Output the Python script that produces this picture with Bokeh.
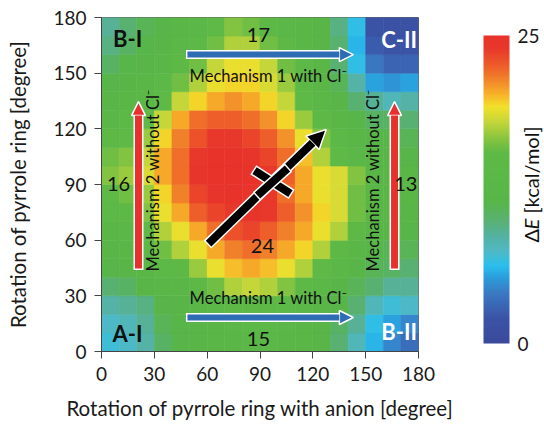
import numpy as np
import pandas as pd
from bokeh.plotting import figure
from bokeh.layouts import row
from bokeh.models import (LinearColorMapper, ColorBar, FixedTicker, Label, Arrow,
                          NormalHead, Range1d, ColumnDataSource)
from bokeh.embed import file_html
from bokeh.resources import INLINE

# ---------------- data ----------------
anion_deg = [5, 15, 25, 35, 45, 55, 65, 75, 85, 95, 105, 115, 125, 135, 145, 155, 165, 175]
ring_deg = [5, 15, 25, 35, 45, 55, 65, 75, 85, 95, 105, 115, 125, 135, 145, 155, 165, 175]

E_175 = [9, 10, 11, 11.5, 12.5, 13.5, 15.5, 16.5, 16, 14.5, 13.5, 13, 12, 9.5, 6.5, 2, 1.5, 1.5]
E_165 = [9.5, 10.5, 11.5, 12, 13.5, 14, 16, 17.5, 17.5, 16, 14.5, 13, 12, 10, 6, 2.5, 2, 2]
E_155 = [10.5, 11.5, 12, 13, 15, 16, 18, 19, 19, 18, 16, 14, 12.5, 10, 6.5, 4, 3, 3]
E_145 = [11.5, 12, 12.5, 14, 16, 17.5, 19, 19.5, 19.5, 18.5, 17, 15, 13, 11, 8.5, 5.5, 5, 5.5]
E_135 = [12, 12.5, 13.5, 15.5, 18, 19.5, 20.5, 21, 20.5, 19.5, 18, 15.5, 13.5, 12, 10, 9, 8, 8.5]
E_125 = [13, 14, 15.5, 18, 20.5, 22, 22.5, 22.5, 22, 21, 19.5, 17, 14.5, 12.5, 11.5, 10.5, 10.5, 10]
E_115 = [14.5, 15.5, 17, 19.5, 21.5, 23, 24, 24, 23.5, 22.5, 21, 19, 16.5, 14, 12.5, 11.5, 11.5, 11]
E_105 = [16, 16.5, 18, 20.5, 22, 24, 25, 25, 24.5, 23.5, 22, 20, 17.5, 15.5, 13.5, 12.5, 12, 11.5]
E_95 = [16.5, 17, 18.5, 20.5, 22, 24.5, 25, 25, 25, 24, 22.5, 20.5, 19, 18.5, 16.5, 13, 13, 12.5]
E_85 = [15.5, 16, 17, 19.5, 21.5, 23.5, 24.5, 25, 24.5, 24, 22, 20.5, 19, 18.5, 16, 13, 13, 12.5]
E_75 = [14, 15, 16.5, 19, 20.5, 22.5, 23.5, 24, 24.5, 24, 22.5, 21, 19.5, 18.5, 16, 12.5, 12.5, 12]
E_65 = [13, 13.5, 15.5, 17.5, 19, 20.5, 22, 23, 23.5, 22.5, 21.5, 20.5, 19, 17.5, 14.5, 12, 12, 11.5]
E_55 = [12, 13, 14, 16, 17.5, 19, 20.5, 21.5, 22, 21.5, 20.5, 19.5, 17.5, 15, 13, 11.5, 11, 11]
E_45 = [11.5, 12, 13, 14, 15, 17, 19, 20, 20.5, 20, 19, 17.5, 15.5, 13.5, 12, 11, 10.5, 10]
E_35 = [10, 10.5, 12, 12.5, 13, 14.5, 16, 17.5, 18, 17.5, 16.5, 15, 13.5, 12, 11, 10, 9, 9]
E_25 = [8.5, 9, 9.5, 11.5, 12, 12.5, 13.5, 14.5, 15, 14.5, 14, 13.5, 12.5, 11.5, 10, 8, 7, 7.5]
E_15 = [7.5, 8, 9, 11, 11.5, 12, 12.5, 13.5, 14, 14, 13.5, 13, 12, 10.5, 9, 6.5, 5.5, 4.5]
E_5 = [7, 7.5, 8.5, 10.5, 11.5, 12, 12.5, 13, 13.5, 13.5, 13, 12.5, 12, 10, 8, 6, 4.5, 3.5]

energy_rows = [E_5, E_15, E_25, E_35, E_45, E_55, E_65, E_75, E_85,
               E_95, E_105, E_115, E_125, E_135, E_145, E_155, E_165, E_175]

axis_ticks = [0, 30, 60, 90, 120, 150, 180]
cbar_ticks = [0, 25]
e_low, e_high = 0, 25
cell = 10

# annotation anchors (degrees)
blue_arrow_x = (48.8, 143.0)
blue_arrow_y = [160.0, 18.3]
red_arrow_x = [21.0, 166.4]
red_arrow_y = (44.7, 134.7)
black_arrow = ((60.8, 58.2), (127.6, 119.6))
cross_arms = [((86.9, 97.5), (107.3, 85.1)), ((88.6, 84.1), (105.6, 98.6))]

# ---------------- colours ----------------
stops = [(0.00, '#3a4a9c'), (0.08, '#3b53a5'), (0.16, '#3a78c2'), (0.22, '#2aa2de'),
         (0.25, '#29bfee'), (0.30, '#4fb9c4'), (0.35, '#55b1a0'), (0.40, '#58b170'),
         (0.46, '#58b548'), (0.62, '#5eb946'), (0.67, '#8cc63f'), (0.72, '#c4d63a'),
         (0.77, '#f2e12b'), (0.81, '#f7b229'), (0.85, '#f28b2a'), (0.90, '#ee5f2a'),
         (0.96, '#e8372b'), (1.00, '#e8332b')]


def hex2rgb(h):
    h = h.lstrip('#')
    return [int(h[i:i + 2], 16) for i in (0, 2, 4)]


spos = np.array([s[0] for s in stops])
srgb = np.array([hex2rgb(s[1]) for s in stops], dtype=float)
tt = np.linspace(0, 1, 256)
palette = ['#%02x%02x%02x' % tuple(int(round(np.interp(t, spos, srgb[:, k]))) for k in range(3))
           for t in tt]
mapper = LinearColorMapper(palette=palette, low=e_low, high=e_high)

# ---------------- table ----------------
recs = []
for yv, rw in zip(ring_deg, energy_rows):
    for xv, e in zip(anion_deg, rw):
        recs.append((xv, yv, e))
df = pd.DataFrame(recs, columns=['x', 'y', 'E'])
src = ColumnDataSource(df)

FONT = "Lato"
FW, FH = 317, 334
TOP, BOTTOM = 17, 78
MAIN_W = 472
p = figure(width=MAIN_W, height=429, x_range=Range1d(0, 180), y_range=Range1d(0, 180),
           output_backend="svg", toolbar_location=None,
           min_border_left=101, min_border_right=MAIN_W - 101 - FW,
           min_border_top=TOP, min_border_bottom=BOTTOM)
p.title.visible = False

p.rect(x='x', y='y', width=cell, height=cell, source=src,
       fill_color={'field': 'E', 'transform': mapper},
       line_color={'field': 'E', 'transform': mapper}, line_width=0.6)

for ax in (p.xaxis, p.yaxis):
    ax.ticker = FixedTicker(ticks=axis_ticks)
    ax.minor_tick_line_color = None
    ax.major_tick_in = 0
    ax.major_tick_out = 7
    ax.axis_line_color = "#444444"
    ax.major_tick_line_color = "#444444"
    ax.major_label_text_font = FONT
    ax.major_label_text_font_size = "19px"
    ax.major_label_text_color = "#1a1a1a"
    ax.axis_label_text_font = FONT
    ax.axis_label_text_font_size = "20.5px"
    ax.axis_label_text_font_style = "normal"
    ax.axis_label_text_color = "#1a1a1a"
p.xaxis.axis_label = "Rotation of pyrrole ring with anion [degree]"
p.yaxis.axis_label = "Rotation of pyrrole ring [degree]"
p.xaxis.major_label_standoff = 8
p.xaxis.axis_label_standoff = 12
p.yaxis.major_label_standoff = 8
p.yaxis.axis_label_standoff = 20
p.xgrid.visible = False
p.ygrid.visible = False
p.outline_line_color = "#666666"

sx = FW / 180.0
sy = FH / 180.0


def shift(pt, d, px):
    return (pt[0] + d[0] * px / sx, pt[1] + d[1] * px / sy)


def direction(a, b):
    dx = (b[0] - a[0]) * sx
    dy = (b[1] - a[1]) * sy
    L = (dx * dx + dy * dy) ** 0.5
    return (dx / L, dy / L)


def fancy_arrow(a, b, color, w, head):
    d = direction(a, b)
    a0 = shift(a, d, -1.5)
    b0 = shift(b, d, -head * 0.85)
    p.add_layout(Arrow(end=None, x_start=a0[0], y_start=a0[1], x_end=b0[0], y_end=b0[1],
                       line_color="white", line_width=w + 3))
    p.add_layout(Arrow(end=NormalHead(size=head, fill_color=color, line_color="white", line_width=1.5),
                       x_start=a[0], y_start=a[1], x_end=b[0], y_end=b[1],
                       line_color=color, line_width=w))


def bar(a, b, color, w):
    d = direction(a, b)
    a0 = shift(a, d, -1.5)
    b0 = shift(b, d, 1.5)
    p.add_layout(Arrow(end=None, x_start=a0[0], y_start=a0[1], x_end=b0[0], y_end=b0[1],
                       line_color="white", line_width=w + 3))
    p.add_layout(Arrow(end=None, x_start=a[0], y_start=a[1], x_end=b[0], y_end=b[1],
                       line_color=color, line_width=w))


BLUE = "#2e6db4"
RED = "#e8312e"
for yb in blue_arrow_y:
    fancy_arrow((blue_arrow_x[0], yb), (blue_arrow_x[1], yb), BLUE, 6, 14)
for xr in red_arrow_x:
    fancy_arrow((xr, red_arrow_y[0]), (xr, red_arrow_y[1]), RED, 7, 14)
fancy_arrow(black_arrow[0], black_arrow[1], "black", 8, 19)
for a, b in cross_arms:
    bar(a, b, "black", 8)


def txt(fig, x, y, text, size, color="#111111", style="normal", angle=0.0, align="center"):
    fig.add_layout(Label(x=x, y=y, text=text, text_font=FONT, text_font_size=size,
                         text_color=color, text_font_style=style, angle=angle,
                         text_align=align, text_baseline="middle"))


txt(p, 14.8, 168.7, "B-I", "22px", style="bold")
txt(p, 14.8, 9.7, "A-I", "22px", style="bold")
txt(p, 169.0, 168.1, "C-II", "22px", color="white", style="bold")
txt(p, 169.0, 10.8, "B-II", "22px", color="white", style="bold")
txt(p, 89.1, 170.8, "17", "20px")
txt(p, 89.1, 7.0, "15", "20px")
txt(p, 9.7, 90.5, "16", "20px")
txt(p, 172.8, 90.5, "13", "20px")
txt(p, 91.4, 57.1, "24", "20px")
txt(p, 94.8, 148.7, "Mechanism 1 with Cl\u207b", "16.5px")
txt(p, 94.8, 28.6, "Mechanism 1 with Cl\u207b", "16.5px")
txt(p, 29.0, 92.2, "Mechanism 2 without Cl\u207b", "16.5px", angle=np.pi / 2)
txt(p, 153.9, 92.2, "Mechanism 2 without Cl\u207b", "16.5px", angle=np.pi / 2)

# ---------------- colour bar panel ----------------
CW, CH = 544 - MAIN_W, 429
# frame of this panel lines up with the main frame (rows align frames);
# data units = canvas pixels (y measured upward from canvas bottom)
p2 = figure(width=CW, height=CH, x_range=Range1d(0, CW), y_range=Range1d(BOTTOM, CH - TOP),
            x_axis_type=None, y_axis_type=None, output_backend="svg", toolbar_location=None,
            min_border_left=0, min_border_right=0, min_border_top=TOP, min_border_bottom=BOTTOM)
p2.outline_line_color = None
p2.title.visible = False

bar_left = 483 - MAIN_W
cb = ColorBar(color_mapper=mapper, ticker=FixedTicker(ticks=cbar_ticks), location=(bar_left, 8),
              width=26, height=308, padding=0, margin=0, label_standoff=8,
              major_label_text_font=FONT, major_label_text_font_size="19px",
              major_label_text_color="#1a1a1a",
              major_tick_line_color=None, bar_line_color=None, border_line_color=None,
              background_fill_alpha=0)
p2.add_layout(cb)

tx = 530 - MAIN_W
txt(p2, tx, CH - 242, "\u0394", "20px", angle=np.pi / 2, align="left")
txt(p2, tx, CH - 229, "E", "20px", style="italic", angle=np.pi / 2, align="left")
txt(p2, tx, CH - 213, "[kcal/mol]", "20px", angle=np.pi / 2, align="left")

layout = row(p, p2)
open("out.html", "w").write(file_html(layout, INLINE))
